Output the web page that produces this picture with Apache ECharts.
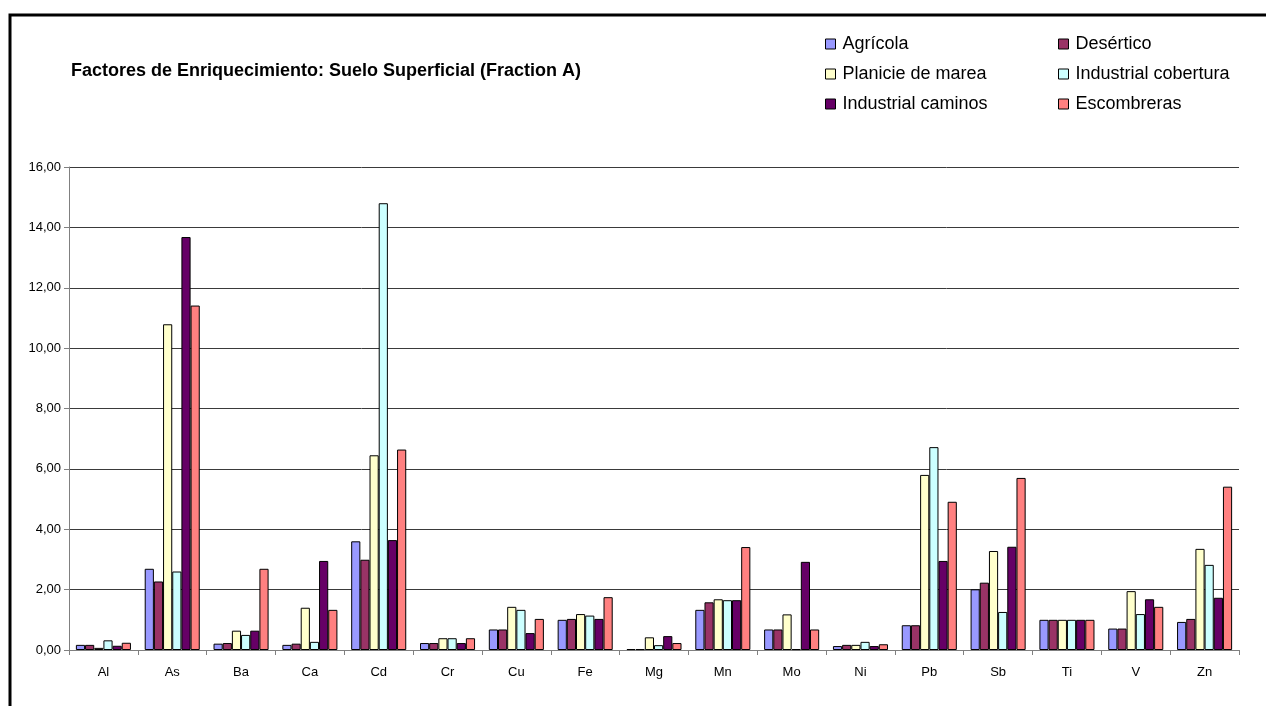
<!DOCTYPE html>
<html>
<head>
<meta charset="utf-8">
<script src="https://cdn.jsdelivr.net/npm/echarts@6/dist/echarts.min.js"></script>
<style>
  html, body { margin: 0; padding: 0; background: #fff; }
  #chart { width: 1266px; height: 706px; }
</style>
</head>
<body>
<div id="chart"></div>
<script>
// element categories
var elements = ["Al", "As", "Ba", "Ca", "Cd", "Cr", "Cu", "Fe", "Mg", "Mn", "Mo", "Ni", "Pb", "Sb", "Ti", "V", "Zn"];

// enrichment factors per soil type
var agricola = [0.17, 2.69, 0.21, 0.17, 3.6, 0.23, 0.68, 1.0, 0.03, 1.33, 0.68, 0.13, 0.82, 2.01, 1.0, 0.71, 0.93];
var desertico = [0.17, 2.27, 0.23, 0.21, 2.99, 0.23, 0.68, 1.03, 0.03, 1.58, 0.68, 0.17, 0.82, 2.23, 1.0, 0.71, 1.03];
var planicie = [0.07, 10.79, 0.64, 1.4, 6.45, 0.39, 1.43, 1.19, 0.42, 1.68, 1.18, 0.17, 5.8, 3.28, 1.0, 1.95, 3.35];
var indCobertura = [0.32, 2.6, 0.5, 0.27, 14.8, 0.39, 1.33, 1.14, 0.16, 1.65, 0.03, 0.27, 6.72, 1.26, 1.0, 1.19, 2.82];
var indCaminos = [0.14, 13.68, 0.64, 2.95, 3.64, 0.23, 0.56, 1.03, 0.46, 1.65, 2.92, 0.13, 2.95, 3.42, 1.0, 1.68, 1.73];
var escombreras = [0.24, 11.41, 2.69, 1.33, 6.64, 0.39, 1.03, 1.75, 0.23, 3.41, 0.68, 0.19, 4.91, 5.7, 1.0, 1.43, 5.41];

var seriesNames = ["Agrícola", "Desértico", "Planicie de marea", "Industrial cobertura", "Industrial caminos", "Escombreras"];
var seriesData = [agricola, desertico, planicie, indCobertura, indCaminos, escombreras];
var colors = ["#9999ff", "#993366", "#ffffcc", "#ccffff", "#660066", "#ff8080"];

var chart = echarts.init(document.getElementById("chart"));

var series = seriesNames.map(function (name, i) {
  return {
    name: name,
    type: "bar",
    data: seriesData[i],
    barGap: "0%",
    barCategoryGap: "20%",
    itemStyle: {
      color: colors[i],
      borderColor: "#000",
      borderWidth: 1,
    },
  };
});

var legendText = {
  fontFamily: "Liberation Sans",
  fontSize: 18,
  color: "#000",
  padding: [0, 0, 0, 2],
};

var option = {
  animation: false,
  textStyle: { fontFamily: "Liberation Sans" },
  title: {
    text: "Factores de Enriquecimiento: Suelo Superficial (Fraction A)",
    left: 66,
    top: 57,
    textStyle: {
      fontFamily: "Liberation Sans",
      fontSize: 18,
      fontWeight: "bold",
      color: "#000",
    },
  },
  graphic: [
    {
      type: "rect",
      shape: { x: 10, y: 15, width: 1400, height: 900 },
      style: { fill: "none", stroke: "#000", lineWidth: 3 },
      silent: true,
    },
  ],
  legend: [
    {
      data: [seriesNames[0], seriesNames[2], seriesNames[4]],
      orient: "vertical",
      left: 820,
      top: 30,
      itemWidth: 10,
      itemHeight: 10,
      itemGap: 12,
      icon: "rect",
      textStyle: legendText,
      itemStyle: { borderColor: "#000", borderWidth: 1 },
    },
    {
      data: [seriesNames[1], seriesNames[3], seriesNames[5]],
      orient: "vertical",
      left: 1053,
      top: 30,
      itemWidth: 10,
      itemHeight: 10,
      itemGap: 12,
      icon: "rect",
      textStyle: legendText,
      itemStyle: { borderColor: "#000", borderWidth: 1 },
    },
  ],
  grid: {
    left: 69,
    right: 27,
    top: 167,
    bottom: 56,
  },
  xAxis: {
    type: "category",
    data: elements,
    axisLine: { lineStyle: { color: "#808080", width: 1 } },
    axisTick: { show: true, length: 5, lineStyle: { color: "#808080" } },
    axisLabel: { color: "#000", fontSize: 13, margin: 16 },
  },
  yAxis: {
    type: "value",
    min: 0,
    max: 16,
    interval: 2,
    axisLine: { show: true, lineStyle: { color: "#808080", width: 1 } },
    axisTick: { show: true, length: 5, lineStyle: { color: "#808080" } },
    axisLabel: {
      color: "#000",
      fontSize: 13,
      margin: 8,
      formatter: function (v) {
        return v.toFixed(2).replace(".", ",");
      },
    },
    splitLine: { lineStyle: { color: "#3a3a3a", width: 1 } },
  },
  series: series,
};

chart.setOption(option);
</script>
</body>
</html>
